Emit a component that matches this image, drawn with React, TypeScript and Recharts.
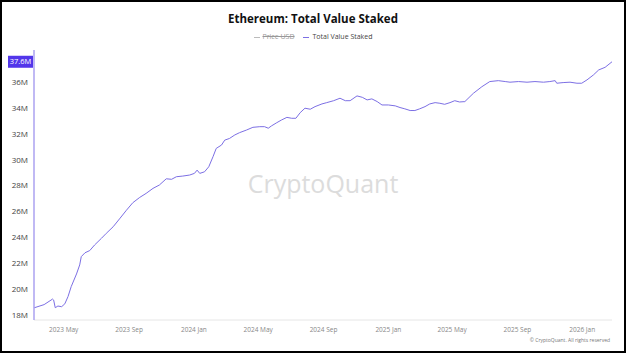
import { LineChart, Line, XAxis, YAxis } from 'recharts';

// Ethereum total value staked, millions of ETH
const dates = [
  '2023-03-06', '2023-03-25', '2023-04-10', '2023-04-12', '2023-04-15', '2023-04-20', '2023-04-27',
  '2023-05-03', '2023-05-09', '2023-05-15', '2023-05-25', '2023-05-31', '2023-06-03', '2023-06-10',
  '2023-06-19', '2023-06-28', '2023-07-11', '2023-07-20', '2023-08-02', '2023-08-14', '2023-08-27',
  '2023-09-08', '2023-09-21', '2023-10-03', '2023-10-16', '2023-10-28', '2023-11-10', '2023-11-20',
  '2023-11-29', '2023-12-11', '2023-12-24', '2024-01-02', '2024-01-07', '2024-01-12', '2024-01-21',
  '2024-01-29', '2024-02-06', '2024-02-12', '2024-02-22', '2024-02-28', '2024-03-08', '2024-03-18',
  '2024-03-27', '2024-04-09', '2024-04-21', '2024-05-04', '2024-05-13', '2024-05-20', '2024-05-26',
  '2024-06-05', '2024-06-14', '2024-06-24', '2024-07-03', '2024-07-11', '2024-07-19', '2024-07-28',
  '2024-08-07', '2024-08-16', '2024-08-29', '2024-09-07', '2024-09-20', '2024-10-02', '2024-10-12',
  '2024-10-21', '2024-11-03', '2024-11-13', '2024-11-22', '2024-12-01', '2024-12-11', '2024-12-20',
  '2025-01-01', '2025-01-14', '2025-01-23', '2025-02-01', '2025-02-11', '2025-02-20', '2025-03-01',
  '2025-03-11', '2025-03-20', '2025-03-30', '2025-04-08', '2025-04-17', '2025-04-27', '2025-05-06',
  '2025-05-15', '2025-05-25', '2025-06-10', '2025-06-26', '2025-07-11', '2025-07-27', '2025-08-09',
  '2025-08-18', '2025-09-03', '2025-09-19', '2025-10-04', '2025-10-20', '2025-11-01', '2025-11-11',
  '2025-11-14', '2025-11-26', '2025-12-09', '2025-12-22', '2025-12-31', '2026-01-10', '2026-01-22',
  '2026-02-01', '2026-02-13', '2026-02-26',
];

const stakedM = [
  18.55, 18.8, 19.23, 19.15, 18.56, 18.69, 18.64,
  18.86, 19.42, 20.19, 21.17, 21.87, 22.51, 22.81,
  22.98, 23.41, 23.93, 24.31, 24.82, 25.43, 26.1,
  26.68, 27.09, 27.4, 27.79, 28.05, 28.53, 28.49,
  28.69, 28.74, 28.82, 28.95, 29.2, 28.95, 29.07,
  29.46, 30.24, 30.88, 31.14, 31.52, 31.65, 31.92,
  32.1, 32.3, 32.51, 32.56, 32.56, 32.44, 32.62,
  32.87, 33.08, 33.28, 33.21, 33.21, 33.64, 33.99,
  33.91, 34.11, 34.32, 34.42, 34.57, 34.76, 34.57,
  34.57, 34.94, 34.83, 34.63, 34.71, 34.5, 34.24,
  34.24, 34.17, 34.04, 33.94, 33.81, 33.81, 33.94,
  34.11, 34.32, 34.42, 34.37, 34.29, 34.42, 34.57,
  34.47, 34.5, 35.14, 35.65, 36.05, 36.12, 36.05,
  36.0, 36.05, 36.0, 36.05, 36.0, 36.05, 36.12,
  35.92, 35.97, 36.0, 35.92, 35.92, 36.18, 36.56,
  36.95, 37.15, 37.58,
];

const xTicks = ['2023-05-01', '2023-09-01', '2024-01-01', '2024-05-01', '2024-09-01', '2025-01-01', '2025-05-01', '2025-09-01', '2026-01-01'];
const yTicks = [18, 20, 22, 24, 26, 28, 30, 32, 34, 36];
const legendItems = ['Price USD', 'Total Value Staked'];
const chartTitle = 'Ethereum: Total Value Staked';

const monthNames = ['Jan', 'Feb', 'Mar', 'Apr', 'May', 'Jun', 'Jul', 'Aug', 'Sep', 'Oct', 'Nov', 'Dec'];
const LINE_COLOR = '#7c6fe4';
const FONT = "'Open Sans', sans-serif";

const data = dates.map((d, i) => ({ t: Date.parse(d), staked: stakedM[i] }));
const latest = stakedM[stakedM.length - 1];

const fmtMonth = (t: number) => {
  const d = new Date(t);
  return `${d.getUTCFullYear()} ${monthNames[d.getUTCMonth()]}`;
};

function YTick(props: any) {
  const { x, y, payload } = props;
  if (payload.value === latest) {
    return (
      <g>
        <rect x={x - 20} y={y - 6} width={25} height={12} fill="#5236ea" />
        <text x={x - 7.5} y={y} dy="0.35em" textAnchor="middle" fontSize={7.5} fill="#fff" fontFamily={FONT}>
          {latest.toFixed(1)}M
        </text>
      </g>
    );
  }
  return (
    <text x={x} y={y} dy="0.35em" textAnchor="end" fontSize={8} fill="#444" fontFamily={FONT}>
      {payload.value}M
    </text>
  );
}

export default function App() {
  return (
    <div
      style={{
        position: 'absolute',
        left: 0,
        top: 0,
        width: 626,
        height: 353,
        boxSizing: 'border-box',
        border: '2px solid #000',
        background: '#fff',
        fontFamily: FONT,
      }}
    >
      <div style={{ position: 'absolute', left: 0, width: 622, top: 9, textAlign: 'center', fontSize: 11.5, fontWeight: 700, color: '#111' }}>
        {chartTitle}
      </div>
      <div style={{ position: 'absolute', left: 0, width: 622, top: 30, display: 'flex', justifyContent: 'center', gap: 9, fontSize: 7, lineHeight: '10px' }}>
        {legendItems.map((name, i) => (
          <span key={name} style={{ display: 'flex', alignItems: 'center', color: i === 0 ? '#999' : '#444' }}>
            <span style={{ display: 'inline-block', width: 6, height: 1, background: i === 0 ? '#bbb' : LINE_COLOR, marginRight: 3 }} />
            <span style={{ textDecoration: i === 0 ? 'line-through' : 'none' }}>{name}</span>
          </span>
        ))}
      </div>
      <div style={{ position: 'absolute', left: 32, width: 578, top: 164, textAlign: 'center', fontSize: 25, fontWeight: 500, color: '#dcdcdc', pointerEvents: 'none' }}>
        CryptoQuant
      </div>
      <div style={{ position: 'absolute', right: 14, top: 335, fontSize: 5, color: '#777' }}>
        © CryptoQuant. All rights reserved
      </div>
      <LineChart width={622} height={349} data={data} margin={{ top: 48, right: 12, left: 0, bottom: 0 }}>
        <XAxis
          dataKey="t"
          type="number"
          scale="time"
          domain={['dataMin', 'dataMax']}
          ticks={xTicks.map((d) => Date.parse(d))}
          tickFormatter={fmtMonth}
          tick={{ fontSize: 6.5, fill: '#888', fontFamily: FONT }}
          axisLine={{ stroke: '#e6e6e6' }}
          tickLine={false}
          tickSize={0}
          tickMargin={7}
          interval={0}
          height={31}
        />
        <YAxis
          type="number"
          domain={[17.61, 38.49]}
          ticks={[...yTicks, latest]}
          tick={<YTick />}
          axisLine={{ stroke: '#aba2f0', strokeWidth: 1.5 }}
          tickLine={false}
          tickSize={0}
          tickMargin={6}
          interval={0}
          width={32}
          allowDataOverflow
        />
        <Line type="linear" dataKey="staked" stroke={LINE_COLOR} strokeWidth={1} dot={false} isAnimationActive={false} />
      </LineChart>
    </div>
  );
}
